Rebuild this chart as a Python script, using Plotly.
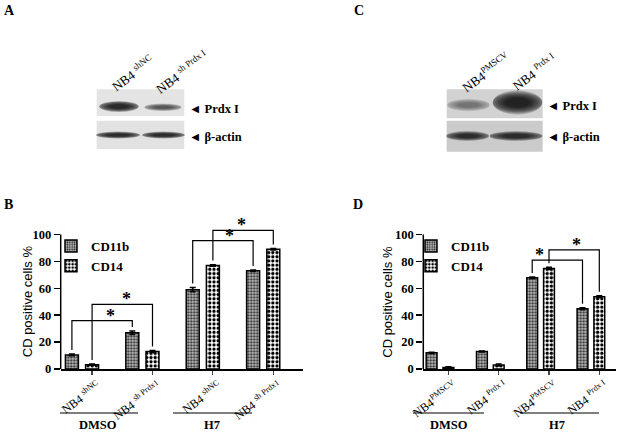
import plotly.graph_objects as go

FIG_W, FIG_H = 620, 432

# ---------------- data ----------------
SERIES = ["CD11b", "CD14"]
TREATMENTS = ["DMSO", "H7"]
Y_TICKS = [0, 20, 40, 60, 80, 100]

B_LABELS = ["NB4 <sup>shNC</sup>", "NB4 <sup>sh Prdx1</sup>", "NB4 <sup>shNC</sup>", "NB4 <sup>sh Prdx1</sup>"]
B_CD11B = [10.5, 27.0, 59.0, 73.0]
B_CD11B_SEM = [0.6, 1.3, 1.6, 0.6]
B_CD14 = [3.2, 13.0, 77.0, 89.0]
B_CD14_SEM = [0.5, 0.7, 0.6, 0.6]

D_LABELS = ["NB4<sup>PMSCV</sup>", "NB4 <sup>Prdx I</sup>", "NB4<sup>PMSCV</sup>", "NB4 <sup>Prdx I</sup>"]
D_CD11B = [12.0, 13.0, 67.8, 44.8]
D_CD11B_SEM = [0.4, 0.4, 0.6, 0.8]
D_CD14 = [1.2, 3.0, 74.8, 53.8]
D_CD14_SEM = [0.4, 0.8, 0.8, 0.6]

# significance brackets
B_SIG_SERIES = ["CD11b", "CD14", "CD11b", "CD14"]
B_SIG_FROM = [0, 0, 2, 2]
B_SIG_TO = [1, 1, 3, 3]
B_SIG_TOP = [36, 48, 95.5, 103]
D_SIG_SERIES = ["CD11b", "CD14"]
D_SIG_FROM = [2, 2]
D_SIG_TO = [3, 3]
D_SIG_TOP = [81, 88.6]

# western blots: relative band darkness per lane
A_LANES = ["NB4 <sup>shNC</sup>", "NB4 <sup>sh Prdx I</sup>"]
A_PRDX = [0.95, 0.55]
A_ACTIN = [0.9, 0.9]
C_LANES = ["NB4<sup>PMSCV</sup>", "NB4 <sup>Prdx I</sup>"]
C_PRDX = [0.35, 1.0]
C_ACTIN = [0.85, 0.85]
BLOT_ROWS = ["Prdx I", "β-actin"]

# ---------------- layout constants ----------------
SERIF = "Liberation Serif, Times New Roman, serif"
SANS = "Liberation Sans, Arial, sans-serif"


def px(x):
    return x / FIG_W


def py(y):
    return 1 - y / FIG_H


Y0_PX, Y100_PX = 369.0, 234.5
Y_MAX = 110.0
Y_TOP_PX = Y0_PX - (Y0_PX - Y100_PX) * Y_MAX / 100.0
Y_DOMAIN = [py(Y0_PX), py(Y_TOP_PX)]
BAR_W = 0.215
HALF = 0.167
SERIES_OFF = {"CD11b": -HALF, "CD14": HALF}
GAP = 3.0

PATTERNS = {
    "CD11b": dict(shape=".", fgcolor="#2a2a2a", bgcolor="#c4c4c4", size=3.0, solidity=0.45, fillmode="replace"),
    "CD14": dict(shape=".", fgcolor="#000000", bgcolor="#ffffff", size=4.2, solidity=0.5, fillmode="replace"),
}

PANELS = [
    dict(name="B", xa="x", ya="y", legend="legend", left=60.7, right=303.0, g0=82.0, step=60.4,
         labels=B_LABELS, vals={"CD11b": B_CD11B, "CD14": B_CD14},
         sem={"CD11b": B_CD11B_SEM, "CD14": B_CD14_SEM},
         sig=(B_SIG_SERIES, B_SIG_FROM, B_SIG_TO, B_SIG_TOP), star_dx=[8.5, 4.0, 7.0, -1.3],
         legend_px=(51.0, 231.0), ytitle_px=27.5,
         group_lines=[(60, 138), (173, 252)], group_text=[98, 212]),
    dict(name="D", xa="x2", ya="y2", legend="legend2", left=423.3, right=616.0, g0=440.0, step=50.3,
         labels=D_LABELS, vals={"CD11b": D_CD11B, "CD14": D_CD14},
         sem={"CD11b": D_CD11B_SEM, "CD14": D_CD14_SEM},
         sig=(D_SIG_SERIES, D_SIG_FROM, D_SIG_TO, D_SIG_TOP), star_dx=[-18.0, 2.7],
         legend_px=(411.0, 231.0), ytitle_px=388.0,
         group_lines=[(413, 484), (520, 599)], group_text=[449, 557]),
]

fig = go.Figure()
annotations = []
shapes = []

for p in PANELS:
    groups = list(range(len(p["labels"])))
    for s in SERIES:
        fig.add_trace(go.Bar(
            x=groups, y=p["vals"][s], name=s,
            xaxis=p["xa"], yaxis=p["ya"], legend=p["legend"],
            width=BAR_W, offset=SERIES_OFF[s] - BAR_W / 2,
            marker=dict(color=PATTERNS[s]["bgcolor"], pattern=PATTERNS[s],
                        line=dict(color="black", width=1.5)),
            error_y=dict(type="data", array=p["sem"][s], color="black", thickness=1.5, width=3),
            hoverinfo="skip",
        ))
    ser, fr, to, top = p["sig"]
    for i in range(len(ser)):
        s = ser[i]
        xa = fr[i] + SERIES_OFF[s]
        xb = to[i] + SERIES_OFF[s]
        va = p["vals"][s][fr[i]] + p["sem"][s][fr[i]] + GAP
        vb = p["vals"][s][to[i]] + p["sem"][s][to[i]] + GAP
        fig.add_trace(go.Scatter(
            x=[xa, xa, xb, xb], y=[va, top[i], top[i], vb], mode="lines",
            line=dict(color="black", width=1.2), cliponaxis=False,
            xaxis=p["xa"], yaxis=p["ya"], showlegend=False, hoverinfo="skip",
        ))
        annotations.append(dict(
            x=(xa + xb) / 2 + p["star_dx"][i] / p["step"], y=top[i], xref=p["xa"], yref=p["ya"],
            text="<b>*</b>", showarrow=False, xanchor="center", yanchor="bottom", yshift=-7,
            font=dict(family=SERIF, size=18, color="black"),
        ))
    # y-axis line only from 0 to 100
    shapes.append(dict(type="line", xref="paper", yref=p["ya"],
                       x0=px(p["left"]), x1=px(p["left"]), y0=0, y1=100,
                       line=dict(color="black", width=1.5)))
    # y-axis title
    annotations.append(dict(
        x=px(p["ytitle_px"]), y=py((Y0_PX + Y100_PX) / 2), xref="paper", yref="paper",
        text="CD positive cells %", textangle=-90, showarrow=False,
        xanchor="center", yanchor="middle",
        font=dict(family=SANS, size=13, color="black"),
    ))
    # treatment groups below the axis
    for (x0, x1), xc, t in zip(p["group_lines"], p["group_text"], TREATMENTS):
        shapes.append(dict(type="line", xref="paper", yref="paper",
                           x0=px(x0), x1=px(x1), y0=py(413), y1=py(413),
                           line=dict(color="black", width=1.2)))
        annotations.append(dict(x=px(xc), y=py(425), xref="paper", yref="paper",
                                text="<b>%s</b>" % t, showarrow=False,
                                xanchor="center", yanchor="middle",
                                font=dict(family=SERIF, size=12.5, color="black")))

# ---------------- western blots (drawn with shapes) ----------------
def band(x0, y0, x1, y1, d):
    cx, cy = (x0 + x1) / 2, (y0 + y1) / 2
    hw, hh = (x1 - x0) / 2, (y1 - y0) / 2
    for k in [1.4, 1.28, 1.16, 1.04, 0.92, 0.8, 0.68, 0.56]:
        shapes.append(dict(type="circle", xref="paper", yref="paper",
                           x0=px(cx - hw * min(1.15, k)), x1=px(cx + hw * min(1.15, k)),
                           y0=py(cy - hh * k), y1=py(cy + hh * k),
                           fillcolor="black", opacity=0.2 * d, line=dict(width=0)))


BLOTS = [
    dict(panels=[(96.7, 89.3, 184.3, 116.0, "#e4e4e4"), (96.7, 120.7, 184.3, 149.0, "#e2e2e2")],
         prdx=A_PRDX, actin=A_ACTIN,
         prdx_boxes=[(102.0, 102.5, 136.0, 110.5), (147.0, 104.5, 179.0, 110.0)],
         actin_boxes=[(99.0, 132.5, 137.0, 137.5), (145.0, 132.5, 182.0, 137.5)],
         lanes=A_LANES, lane_pos=[(132.5, 72.5), (181.5, 71.5)], row_x=186.5, row_y=[108.5, 136.5]),
    dict(panels=[(446.7, 89.3, 542.7, 118.3, "#d2d2d2"), (446.7, 120.7, 542.7, 151.7, "#cbcbcb")],
         prdx=C_PRDX, actin=C_ACTIN,
         prdx_boxes=[(450.0, 100.5, 487.0, 109.5), (496.0, 94.0, 539.0, 111.0)],
         actin_boxes=[(449.0, 132.5, 486.0, 139.5), (493.0, 132.5, 539.0, 139.5)],
         lanes=C_LANES, lane_pos=[(486.0, 72.0), (534.0, 72.0)], row_x=545.0, row_y=[106.0, 136.5]),
]

for b in BLOTS:
    for (x0, y0, x1, y1, c) in b["panels"]:
        shapes.append(dict(type="rect", xref="paper", yref="paper",
                           x0=px(x0), x1=px(x1), y0=py(y0), y1=py(y1),
                           fillcolor=c, line=dict(width=0)))
    for box, d in zip(b["prdx_boxes"], b["prdx"]):
        band(*box, d)
    for box, d in zip(b["actin_boxes"], b["actin"]):
        band(*box, d)
    for lab, (cx, cy) in zip(b["lanes"], b["lane_pos"]):
        annotations.append(dict(x=px(cx), y=py(cy), xref="paper", yref="paper", text=lab,
                                textangle=-36, showarrow=False, xanchor="center", yanchor="middle",
                                font=dict(family=SERIF, size=13, color="black")))
    for lab, ry in zip(BLOT_ROWS, b["row_y"]):
        annotations.append(dict(x=px(b["row_x"]), y=py(ry), xref="paper", yref="paper",
                                text="<b>◄ %s</b>" % lab, xanchor="left", yanchor="middle",
                                showarrow=False,
                                font=dict(family=SERIF, size=12.5, color="black")))

# panel letters
for letter, (lx, ly) in {"A": (2, 1), "C": (352, 1), "B": (2, 195), "D": (351, 195)}.items():
    annotations.append(dict(x=px(lx), y=py(ly), xref="paper", yref="paper", text="<b>%s</b>" % letter,
                            xanchor="left", yanchor="top", showarrow=False,
                            font=dict(family=SERIF, size=14, color="black")))

layout = dict(
    width=FIG_W, height=FIG_H, margin=dict(l=0, r=0, t=0, b=0, pad=0, autoexpand=False),
    paper_bgcolor="white", plot_bgcolor="white", barmode="overlay",
    annotations=annotations, shapes=shapes,
)

for i, p in enumerate(PANELS):
    xk = "xaxis" if i == 0 else "xaxis2"
    yk = "yaxis" if i == 0 else "yaxis2"
    layout[xk] = dict(
        domain=[px(p["left"]), px(p["right"])],
        range=[(p["left"] - p["g0"]) / p["step"], (p["right"] - p["g0"]) / p["step"]],
        anchor=p["ya"], showline=True, linecolor="black", linewidth=1.5, automargin=False,
        showgrid=False, zeroline=False, ticks="outside", ticklen=4, tickwidth=1.2,
        tickvals=[g + HALF for g in range(len(p["labels"]))], ticktext=p["labels"],
        tickangle=-36, ticklabelshift=6, tickfont=dict(family=SERIF, size=12, color="black"),
    )
    layout[yk] = dict(
        domain=Y_DOMAIN, range=[0, Y_MAX], anchor=p["xa"], automargin=False,
        showline=False, showgrid=False, zeroline=False,
        ticks="outside", ticklen=6, tickwidth=1.5, tickvals=Y_TICKS, tickcolor="black",
        tickfont=dict(family=SERIF, size=12.5, color="black", weight="bold"),
    )
    layout[p["legend"]] = dict(
        x=px(p["legend_px"][0]), y=py(p["legend_px"][1]), xanchor="left", yanchor="top",
        bgcolor="rgba(0,0,0,0)", tracegroupgap=0, itemwidth=30,
        font=dict(family=SERIF, size=13, color="black", weight="bold"),
    )

fig.update_layout(**layout)
fig.write_html("out.html", config={"displayModeBar": False, "staticPlot": True},
               post_script="document.body.style.margin='0px';")
